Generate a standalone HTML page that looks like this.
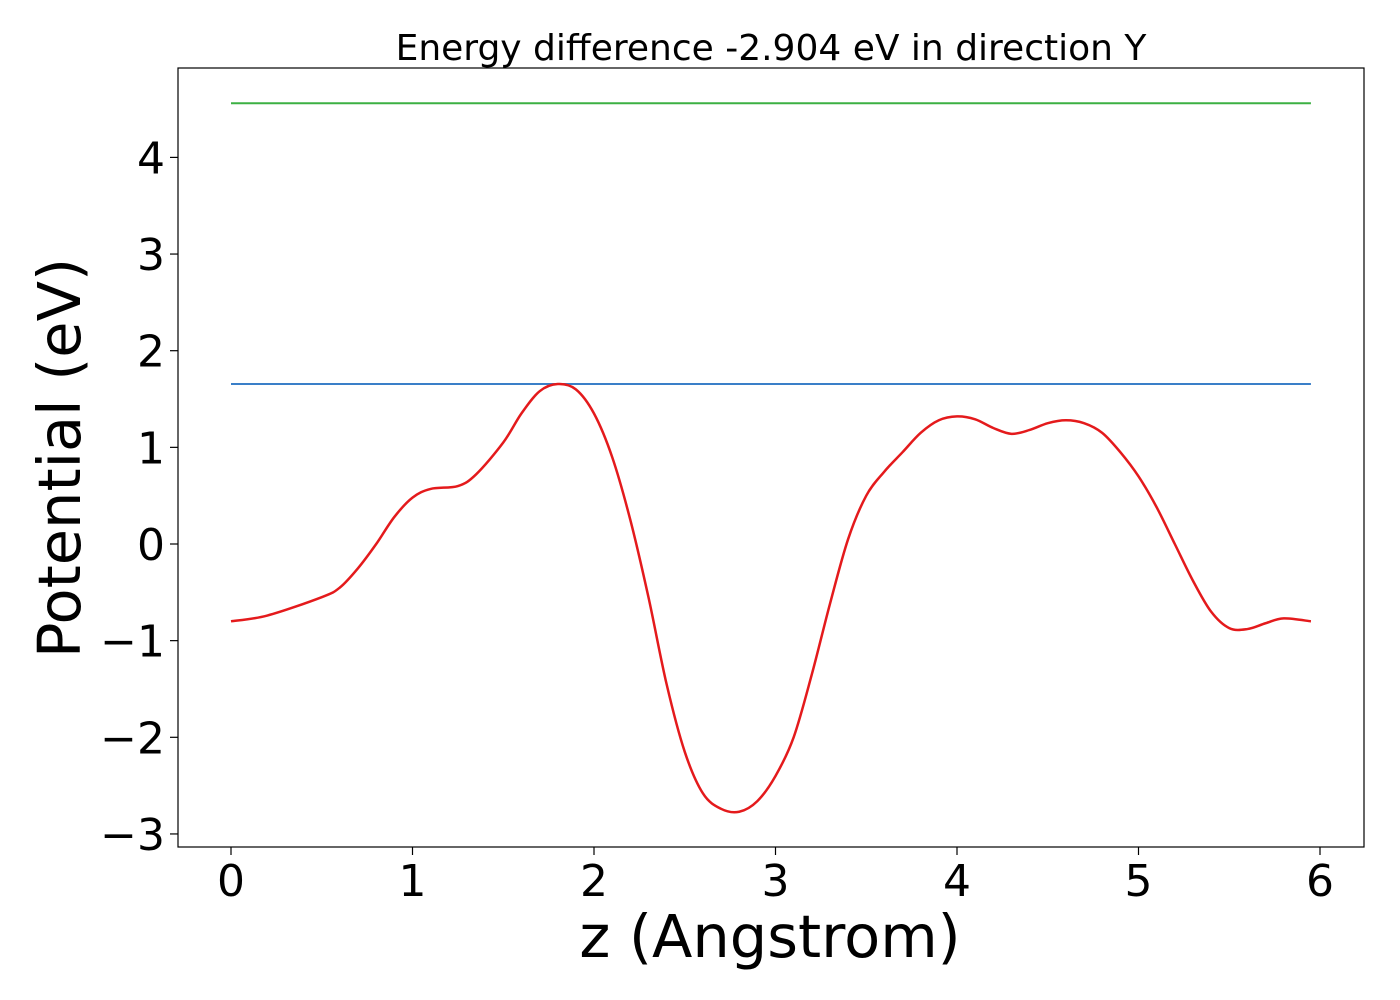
<!DOCTYPE html>
<html><head><meta charset="utf-8"><style>
html,body{margin:0;padding:0;background:#fff;}
svg{display:block;font-family:"DejaVu Sans","Liberation Sans",sans-serif;}
</style></head><body>
<svg id="chart" width="1400" height="1000" viewBox="0 0 1400 1000">
<text x="771" y="60" font-size="36" text-anchor="middle">Energy difference -2.904 eV in direction Y</text>
<rect x="178" y="68" width="1186" height="779" fill="none" stroke="#000" stroke-width="1.2"/>
<g id="xticks"></g>
<g id="yticks"></g>
<g id="series"></g>
<text x="770" y="957" font-size="59" text-anchor="middle">z (Angstrom)</text>
<text transform="translate(80,458) rotate(-90)" font-size="59" text-anchor="middle">Potential (eV)</text>
</svg>
<script>
const xTicks=[0,1,2,3,4,5,6];
const yTicks=[-3,-2,-1,0,1,2,3,4];
const zValues=[0,0.2,0.5,0.6,0.7,0.8,0.9,1.0,1.1,1.25,1.35,1.5,1.6,1.7,1.8,1.9,2.0,2.1,2.2,2.3,2.4,2.5,2.6,2.7,2.8,2.9,3.0,3.1,3.2,3.3,3.4,3.5,3.6,3.7,3.8,3.9,4.0,4.1,4.2,4.3,4.4,4.5,4.6,4.7,4.8,4.9,5.0,5.1,5.2,5.3,5.4,5.5,5.6,5.7,5.8,5.95];
const potential=[-0.80,-0.74,-0.55,-0.45,-0.25,0.0,0.28,0.48,0.57,0.60,0.72,1.05,1.35,1.58,1.655,1.6,1.35,0.9,0.25,-0.55,-1.45,-2.15,-2.58,-2.74,-2.77,-2.66,-2.4,-2.0,-1.35,-0.62,0.05,0.5,0.75,0.95,1.15,1.28,1.32,1.29,1.2,1.14,1.18,1.25,1.28,1.25,1.15,0.95,0.7,0.38,0.0,-0.38,-0.7,-0.87,-0.88,-0.82,-0.77,-0.80];
const levelX=[0,5.95];
const vacuumLevel=[4.56];
const barrierLevel=[1.655];
const NS="http://www.w3.org/2000/svg";
const X=v=>231+v*181.5;
const Y=v=>544-v*96.65;
function mk(t,a,p){const e=document.createElementNS(NS,t);for(const k in a)e.setAttribute(k,a[k]);p.appendChild(e);return e;}
const xg=document.getElementById('xticks'),yg=document.getElementById('yticks'),sg=document.getElementById('series');
xTicks.forEach(v=>{
 const l=mk('line',{x1:X(v),x2:X(v),y1:847,y2:855,stroke:'#000','stroke-width':1.2},xg);
 
 
 const t=mk('text',{x:X(v),y:896,'font-size':44,'text-anchor':'middle'},xg);
 t.textContent=String(v);
 
 
});
yTicks.forEach(v=>{
 const l=mk('line',{x1:170,x2:178,y1:Y(v),y2:Y(v),stroke:'#000','stroke-width':1.2},yg);
 
 
 const t=mk('text',{x:165,y:Y(v)+16,'font-size':44,'text-anchor':'end'},yg);
 t.textContent=(v<0?'\u2212':'')+Math.abs(v);
 
 
});
const g=mk('line',{x1:X(levelX[0]),x2:X(levelX[1]),y1:Y(vacuumLevel[0]),y2:Y(vacuumLevel[0]),stroke:'#3cb043','stroke-width':2},sg);


const b=mk('line',{x1:X(levelX[0]),x2:X(levelX[1]),y1:Y(barrierLevel[0]),y2:Y(barrierLevel[0]),stroke:'#3a7fc8','stroke-width':2},sg);


const pts=zValues.map((z,i)=>[X(z),Y(potential[i])]);
let d='M'+pts[0][0]+','+pts[0][1];
for(let i=0;i<pts.length-1;i++){
 const p0=pts[Math.max(0,i-1)],p1=pts[i],p2=pts[i+1],p3=pts[Math.min(pts.length-1,i+2)];
 const c1=[p1[0]+(p2[0]-p0[0])/6,p1[1]+(p2[1]-p0[1])/6];
 const c2=[p2[0]-(p3[0]-p1[0])/6,p2[1]-(p3[1]-p1[1])/6];
 d+=' C'+c1[0]+','+c1[1]+' '+c2[0]+','+c2[1]+' '+p2[0]+','+p2[1];
}
const r=mk('path',{d:d,fill:'none',stroke:'#e41a1c','stroke-width':2.5},sg);


</script>
</body></html>
